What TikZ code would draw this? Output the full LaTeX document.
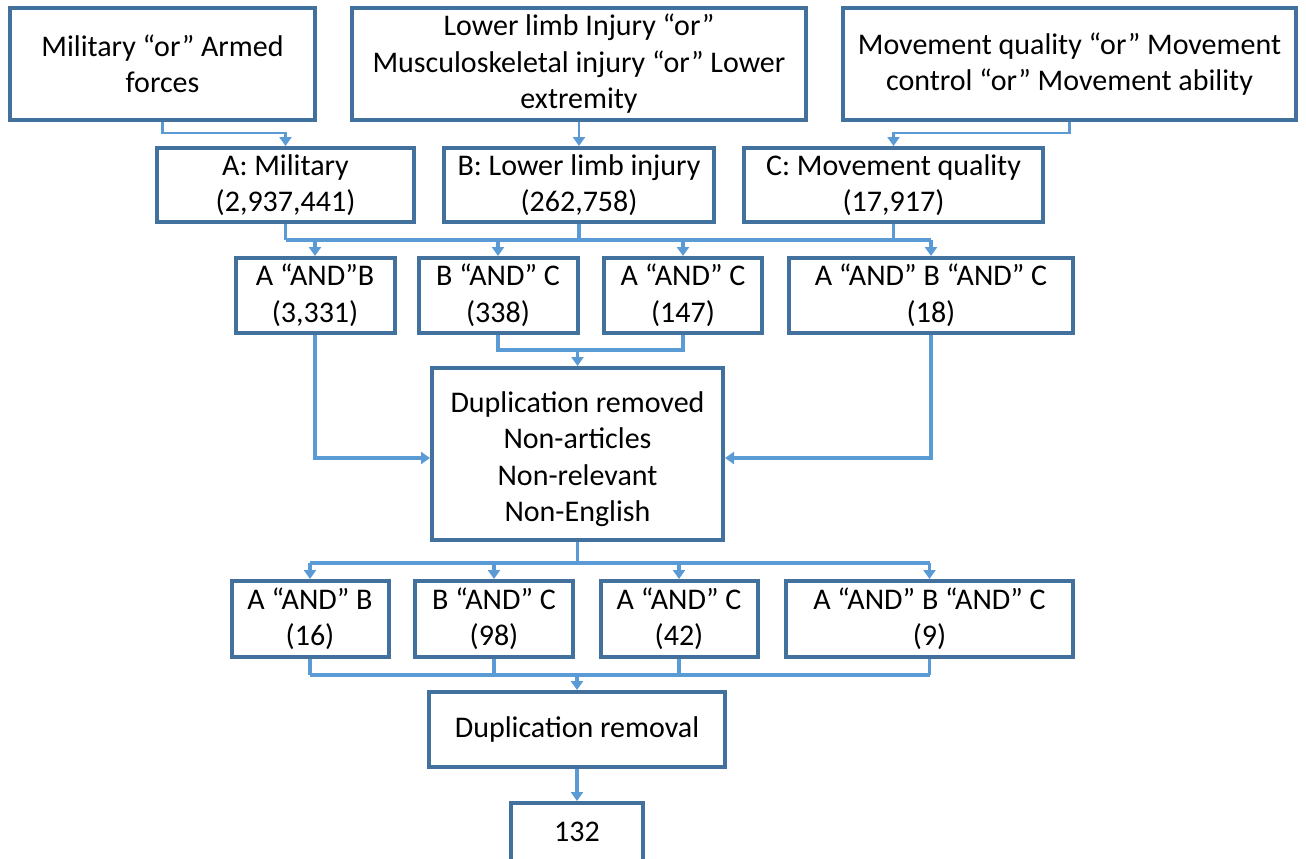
\documentclass[tikz,border=0pt]{standalone}
\usepackage{fontspec}
\setmainfont{Carlito}
\usetikzlibrary{arrows.meta}
\definecolor{boxc}{HTML}{41719C}
\definecolor{linec}{HTML}{5B9BD5}
\begin{document}
\begin{tikzpicture}[x=1pt,y=-1pt,
  box/.style={draw=boxc,line width=4pt,fill=white,align=center,inner sep=0pt,
    font=\fontsize{30}{36.5}\selectfont},
  txt/.style={align=center,inner sep=0pt,font=\fontsize{30}{36.5}\selectfont},
  conn/.style={draw=linec,line width=3.5pt},
  thin conn/.style={draw=linec,line width=2.5pt},
  arr/.style={-{Triangle[width=12pt,length=9pt]}},
  ]
\useasboundingbox (0,0) rectangle (1306,859);
\clip (0,0) rectangle (1306,859);
% top row
\node[box,minimum width=305,minimum height=111] (T1) at (162.5,64) {Military “or” Armed\\forces};
\node[box,minimum width=454,minimum height=111] (T2) at (579,64) {Lower limb Injury “or”\\Musculoskeletal injury “or” Lower\\extremity};
\node[box,minimum width=453,minimum height=111] (T3) at (1069.5,64) {Movement quality “or” Movement\\control “or” Movement ability};
% second row
\node[box,minimum width=257,minimum height=74] (A) at (285.5,185) {A: Military\\(2,937,441)};
\node[box,minimum width=270,minimum height=74] (B) at (579,185) {B: Lower limb injury\\(262,758)};
\node[box,minimum width=299,minimum height=74] (C) at (893.5,185) {C: Movement quality\\(17,917)};
% third row
\node[box,minimum width=159,minimum height=75] (AB1) at (315,295.5) {A “AND”B\\(3,331)};
\node[box,minimum width=159,minimum height=75] (BC1) at (498,295.5) {B “AND” C\\(338)};
\node[box,minimum width=158,minimum height=75] (AC1) at (683,295.5) {A “AND” C\\(147)};
\node[box,minimum width=284,minimum height=75] (ABC1) at (931,295.5) {A “AND” B “AND” C\\(18)};
% duplication box
\node[box,minimum width=291,minimum height=172] (Dup) at (577.5,454) {};
\node[txt] (DupT) at ([yshift=-5pt]Dup.center) {Duplication removed\\Non-articles\\Non-relevant\\Non-English};
% fourth row
\node[box,minimum width=157,minimum height=76] (AB2) at (310,619) {A “AND” B\\(16)};
\node[box,minimum width=158,minimum height=76] (BC2) at (494,619) {B “AND” C\\(98)};
\node[box,minimum width=157,minimum height=76] (AC2) at (679,619) {A “AND” C\\(42)};
\node[box,minimum width=287,minimum height=76] (ABC2) at (929.5,619) {A “AND” B “AND” C\\(9)};
% duplication removal
\node[box,minimum width=296,minimum height=75] (Dup2) at (577,729.5) {Duplication removal};
% final
\node[box,minimum width=132,minimum height=110] (Fin) at (577,858) {};
\node[txt] (FinT) at (577,832) {132};

% bus coordinates
\coordinate (bus0) at (0,133);
\coordinate (bus1) at (0,240);
\coordinate (bus2) at (0,350);
\coordinate (bus3) at (0,563);
\coordinate (bus4) at (0,675);

% top connectors
\draw[thin conn,arr] (T1.south) -- (T1.south |- bus0) -| (A.north);
\draw[thin conn,arr] (T2.south) -- (B.north);
\draw[thin conn,arr] (T3.south) -- (T3.south |- bus0) -| (C.north);

% second to third row
\draw[conn] (A.south) -- (A.south |- bus1);
\draw[conn] (B.south) -- (B.south |- bus1);
\draw[conn] (C.south) -- (C.south |- bus1);
\draw[conn] (A.south |- bus1) -- (ABC1.north |- bus1);
\draw[conn,arr] (AB1.north |- bus1) -- (AB1.north);
\draw[conn,arr] (BC1.north |- bus1) -- (BC1.north);
\draw[conn,arr] (AC1.north |- bus1) -- (AC1.north);
\draw[conn,arr] (ABC1.north |- bus1) -- (ABC1.north);

% third row to duplication
\draw[conn,arr] (AB1.south) |- ([yshift=-4pt]Dup.west);
\draw[conn,arr] (ABC1.south) |- ([yshift=-4pt]Dup.east);
\draw[conn] (BC1.south) -- (BC1.south |- bus2) -- (AC1.south |- bus2) -- (AC1.south);
\draw[conn,arr] (Dup.north |- bus2) -- (Dup.north);

% duplication to fourth row
\draw[conn] (Dup.south) -- (Dup.south |- bus3);
\draw[conn] (AB2.north |- bus3) -- (ABC2.north |- bus3);
\draw[conn,arr] (AB2.north |- bus3) -- (AB2.north);
\draw[conn,arr] (BC2.north |- bus3) -- (BC2.north);
\draw[conn,arr] (AC2.north |- bus3) -- (AC2.north);
\draw[conn,arr] (ABC2.north |- bus3) -- (ABC2.north);

% fourth row to duplication removal
\draw[conn] (AB2.south) -- (AB2.south |- bus4);
\draw[conn] (BC2.south) -- (BC2.south |- bus4);
\draw[conn] (AC2.south) -- (AC2.south |- bus4);
\draw[conn] (ABC2.south) -- (ABC2.south |- bus4);
\draw[conn] (AB2.south |- bus4) -- (ABC2.south |- bus4);
\draw[conn,arr] (Dup2.north |- bus4) -- (Dup2.north);

% final
\draw[conn,arr] (Dup2.south) -- (Fin.north);
\end{tikzpicture}
\end{document}
